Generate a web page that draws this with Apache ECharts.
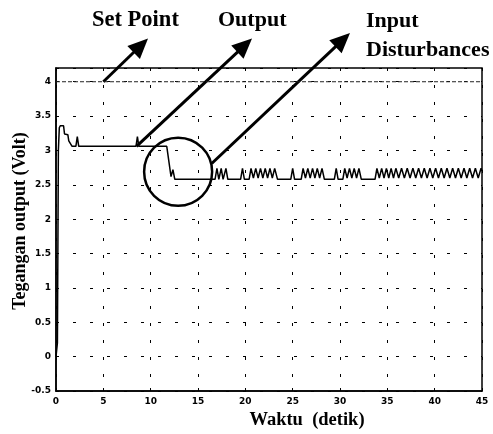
<!DOCTYPE html>
<html><head><meta charset="utf-8">
<script src="https://cdn.jsdelivr.net/npm/echarts@6/dist/echarts.min.js"></script>
<style>html,body{margin:0;padding:0;background:#fff}#c{width:493px;height:434px}</style>
</head><body><div id="c"></div>
<script>
// ---- data ----
const xTickLabels = [0, 5, 10, 15, 20, 25, 30, 35, 40, 45];
const yTickLabels = [-0.5, 0, 0.5, 1, 1.5, 2, 2.5, 3, 3.5, 4];
const setPointTime = [0, 45];
const setPointValue = [4, 4];
const outputTime = [
  0, 0.15, 0.25, 0.35, 0.45, 0.8, 0.9, 1.25, 1.35, 1.55, 1.7, 2.1, 2.25, 2.4,
  8.45, 8.6, 8.75, 11.7, 12.15, 12.35, 12.55,
  16.8, 17.0, 17.2, 17.45, 17.65, 17.95, 18.15,
  19.5, 19.7, 19.9,
  20.4, 20.6, 20.85, 21.1, 21.35, 21.6, 21.85, 22.1, 22.35, 22.6, 22.85, 23.1, 23.4,
  24.8, 25.0, 25.2,
  25.9, 26.1, 26.35, 26.6, 26.85, 27.1, 27.35, 27.6, 27.85, 28.1, 28.35,
  29.4, 29.6, 29.8,
  30.3, 30.5, 30.75, 31.0, 31.25, 31.5, 31.75, 32.0, 32.25,
  33.7, 33.9, 34.15, 34.4, 34.65, 34.9, 35.15, 35.4, 35.65, 35.9,
  36.2, 36.5, 36.8, 37.1, 37.4, 37.7, 38.0, 38.3, 38.6, 38.9, 39.2, 39.5, 39.8, 40.1,
  40.4, 40.7, 41.0, 41.3, 41.6, 41.9, 42.2, 42.5, 42.8, 43.1, 43.4, 43.7, 44.0, 44.3,
  44.6, 44.9, 45
];
const outputValue = [
  0, 0.2, 3.0, 3.33, 3.36, 3.36, 3.24, 3.23, 3.14, 3.12, 3.06, 3.06, 3.2, 3.06,
  3.06, 3.2, 3.06, 3.06, 2.62, 2.72, 2.58,
  2.58, 2.74, 2.58, 2.74, 2.58, 2.74, 2.58,
  2.58, 2.74, 2.58,
  2.58, 2.74, 2.6, 2.74, 2.6, 2.74, 2.6, 2.74, 2.6, 2.74, 2.6, 2.74, 2.58,
  2.58, 2.74, 2.58,
  2.58, 2.74, 2.6, 2.74, 2.6, 2.74, 2.6, 2.74, 2.6, 2.74, 2.58,
  2.58, 2.74, 2.58,
  2.58, 2.74, 2.6, 2.74, 2.6, 2.74, 2.6, 2.74, 2.58,
  2.58, 2.74, 2.6, 2.74, 2.6, 2.74, 2.6, 2.74, 2.6, 2.74,
  2.6, 2.74, 2.6, 2.74, 2.6, 2.74, 2.6, 2.74, 2.6, 2.74, 2.6, 2.74, 2.6, 2.74,
  2.6, 2.74, 2.6, 2.74, 2.6, 2.74, 2.6, 2.74, 2.6, 2.74, 2.6, 2.74, 2.6, 2.74,
  2.6, 2.74, 2.7
];
const annotationLabels = ['Set Point', 'Output', 'Input', 'Disturbances'];
const xAxisTitle = 'Waktu  (detik)';
const yAxisTitle = 'Tegangan output (Volt)';

// ---- chart ----
const chart = echarts.init(document.getElementById('c'), null, {renderer: 'canvas'});
const tickFont = {color: '#000', fontSize: 9, fontWeight: 'bold', fontFamily: 'DejaVu Sans'};
const gridLine = {show: true, lineStyle: {color: '#000', width: 1, type: [3, 14]}};
const isTick = (arr, v) => arr.some(t => Math.abs(t - v) < 1e-6);

chart.setOption({
  animation: false,
  backgroundColor: '#fff',
  grid: {left: 56, right: 11, top: 68, bottom: 43, show: true, borderColor: '#000', borderWidth: 1.5, backgroundColor: 'transparent'},
  xAxis: {
    type: 'value', min: 0, max: 45, interval: 5,
    axisLine: {show: true, onZero: false, lineStyle: {color: '#000', width: 1.5}},
    axisTick: {show: true, inside: true, length: 3, lineStyle: {color: '#000'}},
    axisLabel: Object.assign({margin: 6, formatter: v => isTick(xTickLabels, v) ? String(v) : ''}, tickFont),
    splitLine: gridLine
  },
  yAxis: {
    type: 'value', min: -0.5, max: 4.2, interval: 0.5,
    axisLine: {show: true, onZero: false, lineStyle: {color: '#000', width: 1.5}},
    axisTick: {show: true, inside: true, length: 3, lineStyle: {color: '#000'}},
    axisLabel: Object.assign({margin: 5, showMaxLabel: false, formatter: v => isTick(yTickLabels, v) ? String(v) : ''}, tickFont),
    splitLine: gridLine
  },
  series: [
    {
      type: 'line', name: 'Set Point', showSymbol: false,
      data: setPointTime.map((t, i) => [t, setPointValue[i]]),
      lineStyle: {color: '#222', width: 1, type: [4, 2]}
    },
    {
      type: 'line', name: 'Output', showSymbol: false,
      data: outputTime.map((t, i) => [t, outputValue[i]]),
      lineStyle: {color: '#000', width: 1.5}
    }
  ]
});

// ---- annotations ----
const setPointAnchor = chart.convertToPixel({gridIndex: 0}, [5, 4]);
const outputAnchor = chart.convertToPixel({gridIndex: 0}, [8.5, 3.06]);
const circleCenter = chart.convertToPixel({gridIndex: 0}, [12.9, 2.69]);
const inputAnchor = chart.convertToPixel({gridIndex: 0}, [16.45, 2.81]);

function arrow(from, to) {
  const dx = to[0] - from[0], dy = to[1] - from[1];
  const len = Math.sqrt(dx * dx + dy * dy);
  const ux = dx / len, uy = dy / len;
  const hl = 20, hw = 9;
  const bx = to[0] - ux * hl, by = to[1] - uy * hl;
  return [
    {type: 'line', shape: {x1: from[0], y1: from[1], x2: bx + ux * 2, y2: by + uy * 2}, style: {stroke: '#000', lineWidth: 3}},
    {type: 'polygon', shape: {points: [to, [bx - uy * hw, by + ux * hw], [bx + uy * hw, by - ux * hw]]}, style: {fill: '#000'}}
  ];
}
const serif = 'Liberation Serif, Times New Roman, serif';
const label = (s, x, y, size, align, rot) => ({
  type: 'text', x: x, y: y, rotation: rot || 0,
  style: {text: s, fill: '#000', font: 'bold ' + size + 'px ' + serif, align: align, verticalAlign: 'middle'}
});

const graphics = [].concat(
  arrow(setPointAnchor, [148, 38.5]),
  arrow(outputAnchor, [252, 38.5]),
  arrow(inputAnchor, [350, 33]),
  [
    {type: 'circle', shape: {cx: circleCenter[0], cy: circleCenter[1], r: 34}, style: {fill: null, stroke: '#000', lineWidth: 2.5}},
    label(annotationLabels[0], 92, 20, 22.5, 'left'),
    label(annotationLabels[1], 218, 20, 22, 'left'),
    label(annotationLabels[2], 366, 21, 22, 'left'),
    label(annotationLabels[3], 366, 50, 22, 'left'),
    label(xAxisTitle, 307, 420, 18.5, 'center'),
    label(yAxisTitle, 20, 221, 18, 'center', Math.PI / 2)
  ]
);
chart.setOption({graphic: graphics});
</script>
</body></html>
